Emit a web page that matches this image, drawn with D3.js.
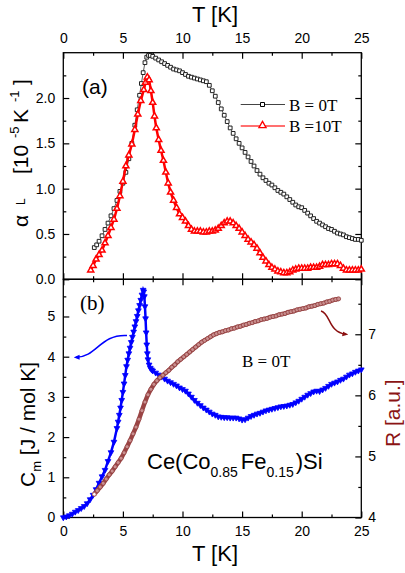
<!DOCTYPE html>
<html>
<head>
<script src="https://cdnjs.cloudflare.com/ajax/libs/d3/7.8.5/d3.min.js"></script>
<style>
    body { margin: 0; background: #fff; }
    svg { display: block; }
    .tick text { font-family: "Liberation Sans", Arial, sans-serif; font-size: 14px; fill: #000; }
    .tick line { stroke: #000; stroke-width: 1.2; }
    .sans { font-family: "Liberation Sans", Arial, sans-serif; }
    .serif { font-family: "Liberation Serif", "Times New Roman", serif; }
</style>
</head>
<body>
<svg width="405" height="573"></svg>
<script>
// ---- data ----
// panel (a): linear thermal expansion, B = 0T
const tB0 = [2.6,2.8,3.0,3.25,3.5,3.75,4.0,4.25,4.5,4.75,5.0,5.25,5.5,5.75,6.0,6.2,6.4,6.55,6.7,6.85,7.0,7.15,7.3,7.5,7.75,8.0,8.25,8.5,8.75,9.0,9.25,9.5,9.75,10.0,10.25,10.5,10.75,11.0,11.25,11.5,11.75,12.0,12.25,12.5,12.75,13.0,13.25,13.5,13.75,14.0,14.25,14.5,14.75,15.0,15.25,15.5,15.75,16.0,16.25,16.5,16.75,17.0,17.25,17.5,17.75,18.0,18.25,18.5,18.75,19.0,19.25,19.5,19.75,20.0,20.25,20.5,20.75,21.0,21.25,21.5,21.75,22.0,22.25,22.5,22.75,23.0,23.25,23.5,23.75,24.0,24.25,24.5,24.75,25.0];
const aB0 = [0.35,0.38,0.42,0.48,0.55,0.62,0.70,0.78,0.87,0.97,1.06,1.18,1.33,1.50,1.70,1.87,2.03,2.16,2.28,2.39,2.45,2.47,2.47,2.46,2.44,2.42,2.40,2.38,2.36,2.34,2.32,2.31,2.30,2.28,2.26,2.24,2.23,2.22,2.21,2.20,2.19,2.18,2.14,2.08,2.02,1.95,1.88,1.81,1.74,1.67,1.61,1.55,1.50,1.45,1.40,1.35,1.30,1.25,1.20,1.16,1.12,1.09,1.06,1.04,1.01,0.98,0.96,0.94,0.91,0.88,0.85,0.82,0.80,0.79,0.76,0.73,0.70,0.67,0.64,0.62,0.60,0.58,0.56,0.55,0.53,0.51,0.50,0.49,0.47,0.46,0.45,0.44,0.44,0.43];

// panel (a): B = 10T
const tB10 = [2.3,2.5,2.75,3.0,3.25,3.5,3.75,4.0,4.25,4.5,4.75,5.0,5.25,5.5,5.75,6.0,6.25,6.5,6.75,6.9,7.05,7.2,7.35,7.5,7.65,7.8,8.0,8.2,8.4,8.6,8.8,9.0,9.25,9.5,9.75,10.0,10.25,10.5,10.75,11.0,11.25,11.5,11.75,12.0,12.25,12.5,12.75,13.0,13.25,13.5,13.75,14.0,14.25,14.5,14.75,15.0,15.25,15.5,15.75,16.0,16.25,16.5,16.75,17.0,17.25,17.5,17.75,18.0,18.25,18.5,18.75,19.0,19.25,19.5,19.75,20.0,20.25,20.5,20.75,21.0,21.25,21.5,21.75,22.0,22.25,22.5,22.75,23.0,23.25,23.5,23.75,24.0,24.25,24.5,24.75,25.0];
const aB10 = [0.10,0.15,0.22,0.27,0.32,0.40,0.48,0.57,0.66,0.78,0.92,1.08,1.25,1.37,1.49,1.65,1.82,1.97,2.09,2.17,2.23,2.20,2.08,1.95,1.80,1.67,1.54,1.42,1.31,1.18,1.06,0.96,0.87,0.79,0.72,0.68,0.64,0.59,0.55,0.53,0.53,0.53,0.52,0.52,0.53,0.53,0.54,0.56,0.59,0.62,0.64,0.64,0.62,0.59,0.56,0.52,0.48,0.44,0.41,0.38,0.34,0.29,0.24,0.20,0.16,0.13,0.11,0.09,0.08,0.07,0.07,0.08,0.10,0.11,0.12,0.12,0.12,0.12,0.13,0.13,0.13,0.14,0.16,0.16,0.16,0.17,0.17,0.17,0.15,0.12,0.10,0.10,0.10,0.10,0.10,0.11];

// panel (b): magnetic specific heat C_m
const tCm = [0.0,0.25,0.5,0.75,1.0,1.25,1.5,1.75,2.0,2.25,2.5,2.75,3.0,3.25,3.5,3.75,4.0,4.25,4.5,4.6,4.7,4.8,4.9,5.0,5.1,5.2,5.3,5.4,5.5,5.6,5.7,5.8,5.9,6.0,6.1,6.2,6.3,6.4,6.5,6.6,6.7,6.75,6.8,6.85,6.9,6.95,7.0,7.05,7.1,7.2,7.3,7.4,7.5,7.75,8.0,8.25,8.5,8.75,9.0,9.25,9.5,9.75,10.0,10.25,10.5,10.75,11.0,11.25,11.5,11.75,12.0,12.25,12.5,12.75,13.0,13.25,13.5,13.75,14.0,14.25,14.5,14.75,15.0,15.25,15.5,15.75,16.0,16.25,16.5,16.75,17.0,17.25,17.5,17.75,18.0,18.25,18.5,18.75,19.0,19.25,19.5,19.75,20.0,20.25,20.5,20.75,21.0,21.25,21.5,21.75,22.0,22.25,22.5,22.75,23.0,23.25,23.5,23.75,24.0,24.25,24.5,24.75,25.0];
const cm = [0.0,0.02,0.05,0.09,0.14,0.18,0.23,0.28,0.35,0.45,0.56,0.70,0.86,1.02,1.18,1.40,1.62,1.88,2.22,2.38,2.55,2.73,2.92,3.12,3.33,3.54,3.76,3.92,4.08,4.22,4.36,4.49,4.62,4.75,4.88,5.01,5.15,5.28,5.41,5.54,5.66,5.62,5.50,5.25,4.95,4.60,4.30,4.08,3.93,3.80,3.72,3.68,3.65,3.60,3.55,3.50,3.45,3.40,3.36,3.32,3.28,3.23,3.19,3.15,3.08,3.00,2.92,2.85,2.79,2.73,2.68,2.63,2.58,2.55,2.51,2.50,2.49,2.49,2.48,2.48,2.48,2.46,2.43,2.44,2.48,2.52,2.55,2.58,2.60,2.63,2.66,2.68,2.70,2.72,2.74,2.76,2.77,2.78,2.80,2.82,2.86,2.90,2.95,3.00,3.05,3.09,3.13,3.15,3.14,3.18,3.22,3.27,3.32,3.35,3.38,3.42,3.45,3.50,3.55,3.58,3.62,3.65,3.68];

// panel (b): resistivity R (right axis)
const tR = [2.6,2.85,3.1,3.35,3.6,3.85,4.1,4.35,4.6,4.85,5.1,5.35,5.6,5.85,6.1,6.35,6.6,6.85,7.1,7.35,7.6,7.85,8.1,8.35,8.6,8.85,9.1,9.35,9.6,9.85,10.1,10.35,10.6,10.85,11.1,11.35,11.6,11.85,12.1,12.35,12.6,12.85,13.1,13.35,13.6,13.85,14.1,14.35,14.6,14.85,15.1,15.35,15.6,15.85,16.1,16.35,16.6,16.85,17.1,17.35,17.6,17.85,18.1,18.35,18.6,18.85,19.1,19.35,19.6,19.85,20.1,20.35,20.6,20.85,21.1,21.35,21.6,21.85,22.1,22.35,22.6,22.85,23.1];
const rVals = [4.38,4.44,4.50,4.56,4.63,4.70,4.76,4.83,4.90,4.97,5.06,5.16,5.26,5.37,5.48,5.61,5.75,5.89,6.01,6.10,6.18,6.24,6.29,6.33,6.37,6.41,6.46,6.50,6.55,6.59,6.63,6.67,6.71,6.75,6.79,6.83,6.87,6.90,6.93,6.96,6.99,7.01,7.03,7.04,7.06,7.07,7.09,7.10,7.12,7.13,7.15,7.16,7.18,7.19,7.21,7.22,7.24,7.25,7.26,7.28,7.29,7.30,7.32,7.33,7.34,7.36,7.37,7.38,7.40,7.41,7.42,7.43,7.45,7.46,7.47,7.49,7.50,7.51,7.53,7.54,7.56,7.57,7.58];

// ticks
const xMajor = [0, 5, 10, 15, 20, 25];
const xMinor = [2.5, 7.5, 12.5, 17.5, 22.5];
const aMajor = [0, 0.5, 1.0, 1.5, 2.0];
const aMinor = [0.25, 0.75, 1.25, 1.75, 2.25];
const cMajor = [0, 1, 2, 3, 4, 5];
const cMinor = [0.5, 1.5, 2.5, 3.5, 4.5, 5.5];
const rMajor = [4, 5, 6, 7];
const rMinor = [4.5, 5.5, 6.5, 7.5];

const svg = d3.select("svg");

const x = d3.scaleLinear().domain([0, 25]).range([63.3, 361.3]);
const yA = d3.scaleLinear().domain([0, 2.5]).range([279.3, 52.7]);
const yC = d3.scaleLinear().domain([0, 5.925]).range([517.5, 279.3]);
const yR = d3.scaleLinear().domain([4, 7.9]).range([517.5, 279.3]);

const xL = 63.3, xR = 361.3, yTop = 52.7, yMid = 279.3, yBot = 517.5;

function addAxis(gen, tx, ty, keepLabels) {
    const g = svg.append("g").attr("transform", `translate(${tx},${ty})`).call(gen);
    g.select(".domain").remove();
    if (!keepLabels) g.selectAll("text").remove();
    return g;
}

// x axes
addAxis(d3.axisTop(x).tickValues(xMajor).tickSize(-6).tickPadding(10).tickFormat(d3.format("d")), 0, yTop, true);
addAxis(d3.axisTop(x).tickValues(xMinor).tickSize(-3), 0, yTop, false);
addAxis(d3.axisBottom(x).tickValues(xMajor).tickSize(-6), 0, yMid, false);
addAxis(d3.axisBottom(x).tickValues(xMinor).tickSize(-3), 0, yMid, false);
addAxis(d3.axisTop(x).tickValues(xMajor).tickSize(-6), 0, yMid, false);
addAxis(d3.axisTop(x).tickValues(xMinor).tickSize(-3), 0, yMid, false);
addAxis(d3.axisBottom(x).tickValues(xMajor).tickSize(-6).tickPadding(8.5).tickFormat(d3.format("d")), 0, yBot, true);
addAxis(d3.axisBottom(x).tickValues(xMinor).tickSize(-3), 0, yBot, false);

// y axes panel (a)
addAxis(d3.axisLeft(yA).tickValues(aMajor).tickSize(-6).tickPadding(8).tickFormat(d3.format(".1f")), xL, 0, true);
addAxis(d3.axisLeft(yA).tickValues(aMinor).tickSize(-3), xL, 0, false);
addAxis(d3.axisRight(yA).tickValues(aMajor).tickSize(-6), xR, 0, false);
addAxis(d3.axisRight(yA).tickValues(aMinor).tickSize(-3), xR, 0, false);

// y axes panel (b)
addAxis(d3.axisLeft(yC).tickValues(cMajor).tickSize(-6).tickPadding(8).tickFormat(d3.format("d")), xL, 0, true);
addAxis(d3.axisLeft(yC).tickValues(cMinor).tickSize(-3), xL, 0, false);
addAxis(d3.axisRight(yR).tickValues(rMajor).tickSize(-6).tickPadding(7).tickFormat(d3.format("d")), xR, 0, true);
addAxis(d3.axisRight(yR).tickValues(rMinor).tickSize(-3), xR, 0, false);

// frames
svg.append("rect").attr("x", xL).attr("y", yTop).attr("width", xR - xL).attr("height", yMid - yTop)
    .attr("fill", "none").attr("stroke", "#000").attr("stroke-width", 1.3);
svg.append("rect").attr("x", xL).attr("y", yMid).attr("width", xR - xL).attr("height", yBot - yMid)
    .attr("fill", "none").attr("stroke", "#000").attr("stroke-width", 1.3);

// ---- panel (a) series ----
const b0 = d3.zip(tB0, aB0);
const b10 = d3.zip(tB10, aB10);
const lineA = d3.line().x(d => x(d[0])).y(d => yA(d[1]));

svg.append("path").attr("d", lineA(b0)).attr("fill", "none").attr("stroke", "#333").attr("stroke-width", 0.8);
svg.append("g").selectAll("path").data(b0).join("path")
    .attr("transform", d => `translate(${x(d[0])},${yA(d[1])})`)
    .attr("d", d3.symbol(d3.symbolSquare, 14))
    .attr("fill", "#fff").attr("stroke", "#222").attr("stroke-width", 1);

svg.append("path").attr("d", lineA(b10)).attr("fill", "none").attr("stroke", "#f00").attr("stroke-width", 2.5);
svg.append("g").selectAll("path").data(b10).join("path")
    .attr("transform", d => `translate(${x(d[0])},${yA(d[1])})`)
    .attr("d", d3.symbol(d3.symbolTriangle, 16))
    .attr("fill", "#fff").attr("stroke", "#f00").attr("stroke-width", 1.5);

// ---- panel (b) series ----
const cmData = d3.zip(tCm, cm);
const rData = d3.zip(tR, rVals);

svg.append("path").attr("d", d3.line().x(d => x(d[0])).y(d => yC(d[1]))(cmData))
    .attr("fill", "none").attr("stroke", "#00f").attr("stroke-width", 2.5);
svg.append("g").selectAll("path").data(cmData).join("path")
    .attr("transform", d => `translate(${x(d[0])},${yC(d[1])}) rotate(180)`)
    .attr("d", d3.symbol(d3.symbolTriangle, 14))
    .attr("fill", "#00f").attr("stroke", "#00f").attr("stroke-width", 0.8);

svg.append("path").attr("d", d3.line().x(d => x(d[0])).y(d => yR(d[1]))(rData))
    .attr("fill", "none").attr("stroke", "#9a4444").attr("stroke-width", 4.5);
svg.append("g").selectAll("circle").data(rData).join("circle")
    .attr("cx", d => x(d[0])).attr("cy", d => yR(d[1])).attr("r", 2)
    .attr("fill", "#c98f8f").attr("stroke", "#934040").attr("stroke-width", 0.8);
svg.append("circle").attr("cx", x(tR[0])).attr("cy", yR(rVals[0])).attr("r", 1.8)
    .attr("fill", "#fff").attr("stroke", "#b06060").attr("stroke-width", 0.8);

// ---- arrows ----
const defs = svg.append("defs");
function arrowHead(id, color) {
    defs.append("marker").attr("id", id).attr("viewBox", "0 0 10 10")
        .attr("refX", 6).attr("refY", 5).attr("markerWidth", 6).attr("markerHeight", 6)
        .attr("markerUnits", "userSpaceOnUse").attr("orient", "auto")
        .append("path").attr("d", "M0,1 L10,5 L0,9 z").attr("fill", color);
}
arrowHead("ahBlue", "#00f");
arrowHead("ahRed", "#8b1010");
svg.append("path").attr("d", "M127,335.5 C100,334 97,357 76,357.3")
    .attr("fill", "none").attr("stroke", "#00f").attr("stroke-width", 1.5).attr("marker-end", "url(#ahBlue)");
svg.append("path").attr("d", "M321,311 C331,314 328,332 346,334.3")
    .attr("fill", "none").attr("stroke", "#8b1010").attr("stroke-width", 1.5).attr("marker-end", "url(#ahRed)");

// ---- legend ----
svg.append("line").attr("x1", 240.7).attr("x2", 285).attr("y1", 104.5).attr("y2", 104.5)
    .attr("stroke", "#444").attr("stroke-width", 1);
svg.append("path").attr("transform", "translate(262.5,104.5)").attr("d", d3.symbol(d3.symbolSquare, 16))
    .attr("fill", "#fff").attr("stroke", "#000").attr("stroke-width", 1);
svg.append("line").attr("x1", 240.7).attr("x2", 285).attr("y1", 126).attr("y2", 126)
    .attr("stroke", "#ff7070").attr("stroke-width", 1.8);
svg.append("path").attr("transform", "translate(262.5,125.5)").attr("d", d3.symbol(d3.symbolTriangle, 22))
    .attr("fill", "#fff").attr("stroke", "#f00").attr("stroke-width", 1.3);
svg.append("text").attr("class", "serif").attr("x", 289).attr("y", 111).attr("font-size", 17).text("B = 0T");
svg.append("text").attr("class", "serif").attr("x", 289).attr("y", 132).attr("font-size", 17).text("B =10T");

// ---- labels ----
svg.append("text").attr("class", "sans").attr("x", 82).attr("y", 94).attr("font-size", 21).text("(a)");
svg.append("text").attr("class", "serif").attr("x", 80).attr("y", 310).attr("font-size", 21).text("(b)");
svg.append("text").attr("class", "serif").attr("x", 242).attr("y", 367).attr("font-size", 17).text("B = 0T");

const comp = svg.append("text").attr("class", "sans").attr("x", 147).attr("y", 469).attr("font-size", 22);
comp.append("tspan").text("Ce(Co");
comp.append("tspan").attr("font-size", 14).attr("dy", 8).text("0.85");
comp.append("tspan").attr("dy", -8).attr("dx", 3).text("Fe");
comp.append("tspan").attr("font-size", 14).attr("dy", 8).text("0.15");
comp.append("tspan").attr("dy", -8).attr("dx", 2).text(")Si");

svg.append("text").attr("class", "sans").attr("x", 215).attr("y", 22).attr("font-size", 22)
    .attr("text-anchor", "middle").text("T [K]");
svg.append("text").attr("class", "sans").attr("x", 215).attr("y", 561).attr("font-size", 22)
    .attr("text-anchor", "middle").text("T [K]");

// alpha_L label
const la = svg.append("text").attr("class", "sans").attr("font-size", 21)
    .attr("transform", "translate(28,227) rotate(-90)");
la.append("tspan").attr("x", 0).text("α");
la.append("tspan").attr("x", 22).attr("dy", -3).attr("font-size", 12).text("L");
la.append("tspan").attr("x", 53).attr("dy", 3).text("[10");
la.append("tspan").attr("x", 89).attr("dy", -9).attr("font-size", 13).text("-5");
la.append("tspan").attr("x", 104).attr("dy", 9).text("K");
la.append("tspan").attr("x", 125).attr("dy", -9).attr("font-size", 13).text("-1");
la.append("tspan").attr("x", 142).attr("dy", 9).text("]");

// C_m label
const lc = svg.append("text").attr("class", "sans").attr("font-size", 21)
    .attr("transform", "translate(35,487) rotate(-90)");
lc.append("tspan").text("C");
lc.append("tspan").attr("font-size", 13).attr("dy", 6).text("m");
lc.append("tspan").attr("dy", -6).text(" [J / mol K]");

// R label
svg.append("text").attr("class", "sans").attr("font-size", 21).attr("fill", "#8b1414")
    .attr("transform", "translate(400,447) rotate(-90)").text("R [a.u.]");
</script>
</body>
</html>
